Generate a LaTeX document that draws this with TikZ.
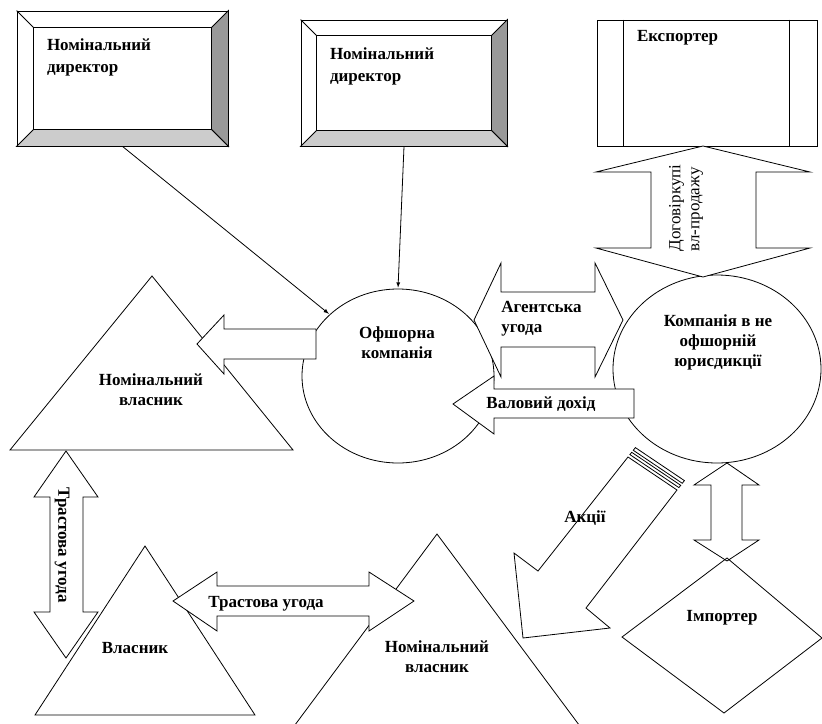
\documentclass[tikz,border=0pt]{standalone}
\usepackage{fontspec}
\setmainfont{Liberation Serif}
\usetikzlibrary{shapes.geometric}
\definecolor{bevdark}{gray}{0.6}
\definecolor{bevlight}{gray}{0.8}

% bevelled frame round a named node: node, inset
\newcommand{\bevelframe}[2]{%
  \draw[fill=bevdark] (#1.north east) -- (#1.south east) -- ([shift={(-#2,-#2)}]#1.south east) -- ([shift={(-#2,#2)}]#1.north east) -- cycle;
  \draw[fill=bevlight] (#1.south east) -- (#1.south west) -- ([shift={(#2,-#2)}]#1.south west) -- ([shift={(-#2,-#2)}]#1.south east) -- cycle;
  \draw (#1.north west) -- ([shift={(#2,#2)}]#1.north west);
  \draw ([shift={(#2,#2)}]#1.north west) rectangle ([shift={(-#2,-#2)}]#1.south east);
}

\begin{document}
\begin{tikzpicture}[x=1pt,y=-1pt,>=latex,line width=0.8pt,
    box/.style={draw,rectangle,inner sep=0pt},
    oval/.style={draw,ellipse,inner sep=0pt},
    blockarrow/.style={draw,fill=white},
    lbl/.style={inner sep=0pt,align=center,font=\fontsize{17}{20}\selectfont\bfseries},
    boxlbl/.style={inner sep=0pt,anchor=north west,align=left,font=\fontsize{17}{22}\selectfont\bfseries},
    conn/.style={->,shorten >=1pt}]
  \useasboundingbox (0,0) rectangle (822,723);
  \clip (0,0) rectangle (822,723);

  % top row
  \node[box,minimum width=211,minimum height=135] (dir1) at (122.5,78.5) {};
  \bevelframe{dir1}{17}
  \node[box,minimum width=206,minimum height=126] (dir2) at (404,83) {};
  \bevelframe{dir2}{16}
  \node[box,minimum width=220,minimum height=126] (exp) at (707,83) {};
  \draw ([xshift=27]exp.north west) -- ([xshift=27]exp.south west);
  \draw ([xshift=-28]exp.north east) -- ([xshift=-28]exp.south east);

  \node[boxlbl] (tdir1) at ([shift={(30,28)}]dir1.north west) {Номінальний\\директор};
  \node[boxlbl] (tdir2) at ([shift={(29,28)}]dir2.north west) {Номінальний\\директор};
  \node[boxlbl] (texp) at ([shift={(40,10)}]exp.north west) {Експортер};

  % triangles and diamond
  \draw (152,276) -- (293,450) -- (10,450) -- cycle;
  \draw (145,546) -- (255,715) -- (35,715) -- cycle;
  \draw (437,534) -- (620,780) -- (254,780) -- cycle;
  \draw (727,558) -- (822,638) -- (724,713) -- (622,637) -- cycle;

  % circles
  \node[oval,minimum width=192,minimum height=174] (off) at (398,376) {};
  \node[oval,minimum width=208,minimum height=188] (comp) at (717,369) {};

  \draw[conn] (dir1.south) -- (off.138);
  \draw[conn] (dir2.south) -- (off.north);

  % block arrows
  \draw[blockarrow] (703,146) -- (810,172) -- (756,172) -- (756,248) -- (810,248) -- (703,277)
    -- (596,248) -- (651,248) -- (651,172) -- (596,172) -- cycle;
  \draw[blockarrow] (474,320) -- (501,263) -- (501,292) -- (595,292) -- (595,263) -- (623,320)
    -- (595,377) -- (595,347) -- (501,347) -- (501,377) -- cycle;
  \draw[blockarrow] (453,404) -- (494,376) -- (494,389) -- (634,389) -- (634,418) -- (494,418) -- (494,434) -- cycle;
  \draw[blockarrow] (197,344) -- (224,315) -- (224,329) -- (316,329) -- (316,359) -- (224,359) -- (224,374) -- cycle;
  \draw[blockarrow] (66,451) -- (98,497) -- (83,497) -- (83,612) -- (98,612) -- (66,658)
    -- (34,612) -- (50,612) -- (50,497) -- (34,497) -- cycle;
  \draw[blockarrow] (173,601) -- (217,572) -- (217,586) -- (369,586) -- (369,572) -- (414,601)
    -- (369,631) -- (369,616) -- (217,616) -- (217,631) -- cycle;
  \draw (727,463) -- (759,485) -- (742,485) -- (742,540) -- (759,540) -- (727,561)
    -- (694,540) -- (711,540) -- (711,485) -- (694,485) -- cycle;
  % striped arrow
  \draw[blockarrow] (628,457) -- (538,571) -- (514,553) -- (523,638) -- (610,628) -- (586,608) -- (677,490) -- cycle;
  \draw (629.9,454.6) -- (678.9,487.6) -- (680.7,485.3) -- (631.7,452.3) -- cycle;
  \draw (633.3,450.3) -- (682.3,483.3) -- (684.4,480.6) -- (635.4,447.6) -- cycle;

  % labels
  \node[lbl] (toff) at (397,343) {Офшорна\\компанія};
  \node[lbl] (tcomp) at (718,342) {Компанія в не\\офшорній\\юрисдикції};
  \node[lbl] (tnom1) at (151,390) {Номінальний\\власник};
  \node[lbl] (town) at (135,648) {Власник};
  \node[lbl] (tnom2) at (437,657) {Номінальний\\власник};
  \node[lbl] (timp) at (722,618) {Імпортер};
  \node[lbl] (tshare) at (585,518) {Акції};
  \node[lbl] (tincome) at (541,404) {Валовий дохід};
  \node[lbl,anchor=west,align=left] (tagent) at (501,319) {Агентська\\угода};
  \node[lbl] (ttrust1) at (266,604) {Трастова угода};
  \node[lbl,rotate=-90] (ttrust2) at (62,545) {Трастова угода};
  \node[inner sep=0pt,align=left,rotate=90,font=\fontsize{17}{19}\selectfont] (tsale) at (686,208) {Договіркупі\\вл-продажу};
\end{tikzpicture}
\end{document}
